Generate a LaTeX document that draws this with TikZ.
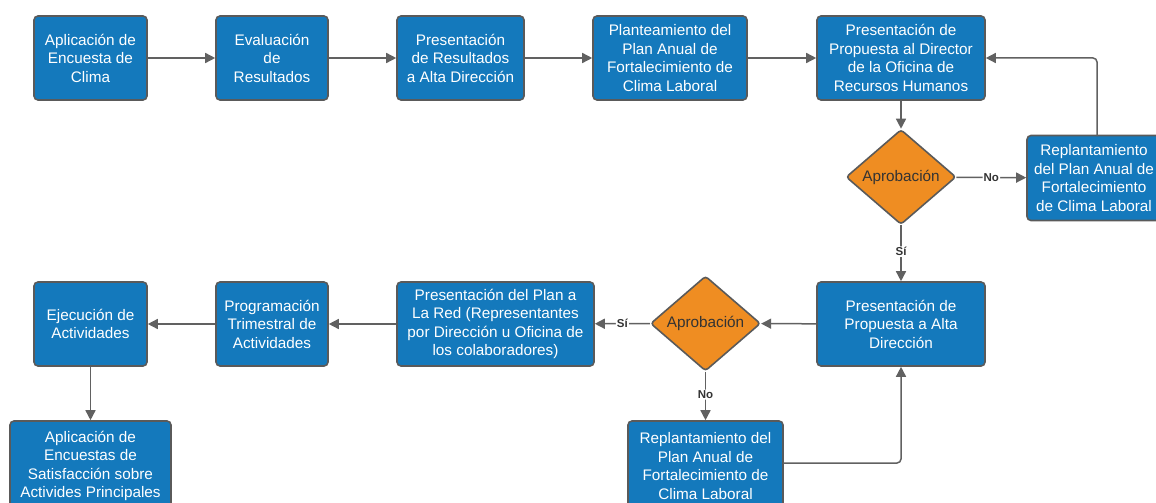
\documentclass[tikz,border=0pt]{standalone}
\usepackage{fontspec}
\setmainfont{Liberation Sans}
\usetikzlibrary{shapes.geometric,arrows.meta}
\definecolor{boxblue}{HTML}{1479BC}
\definecolor{edgegray}{HTML}{5A5A5A}
\definecolor{decor}{HTML}{EF8D22}
\definecolor{linegray}{HTML}{616161}
\definecolor{labelgray}{HTML}{333333}
\begin{document}
\begin{tikzpicture}[x=1pt,y=-1pt,
  stepbox/.style={draw=edgegray,line width=1.6pt,fill=boxblue,rounded corners=4pt,
    text=white,align=center,font=\fontsize{15.3}{18.5}\selectfont,inner sep=0pt},
  decision/.style={diamond,draw=edgegray,line width=1.6pt,fill=decor,rounded corners=3pt,
    text=labelgray,font=\fontsize{15.3}{18.5}\selectfont,inner sep=0pt,
    minimum width=110pt,minimum height=95pt},
  conn/.style={draw=linegray,line width=1.5pt,-{Triangle[length=10pt,width=10pt]},rounded corners=4pt},
  lbl/.style={fill=white,text=labelgray,font=\fontsize{11.5}{13}\selectfont\bfseries,inner sep=1pt}
]
\useasboundingbox (0,0) rectangle (1156,503);
% top row
\node[stepbox,minimum width=113pt,minimum height=84pt] (a1) at (90.5,58) {Aplicación de\\Encuesta de\\Clima};
\node[stepbox,minimum width=112pt,minimum height=84pt] (a2) at (272,58) {Evaluación\\de\\Resultados};
\node[stepbox,minimum width=127pt,minimum height=84pt] (a3) at (460.5,58) {Presentación\\de Resultados\\a Alta Dirección};
\node[stepbox,minimum width=154pt,minimum height=84pt] (a4) at (670,58) {Planteamiento del\\Plan Anual de\\Fortalecimiento de\\Clima Laboral};
\node[stepbox,minimum width=168pt,minimum height=84pt] (a5) at (901,58) {Presentación de\\Propuesta al Director\\de la Oficina de\\Recursos Humanos};
\node[decision] (d1) at (901,177) {Aprobación};
\node[stepbox,minimum width=134pt,minimum height=85pt] (r1) at (1094,178) {Replantamiento\\del Plan Anual de\\Fortalecimiento\\de Clima Laboral};
% middle row
\node[stepbox,minimum width=168pt,minimum height=84pt] (b1) at (901,324) {Presentación de\\Propuesta a Alta\\Dirección};
\node[decision] (d2) at (705.5,323.5) {Aprobación};
\node[stepbox,minimum width=197pt,minimum height=84pt] (b2) at (495.5,324) {Presentación del Plan a\\La Red (Representantes\\por Dirección u Oficina de\\los colaboradores)};
\node[stepbox,minimum width=112pt,minimum height=84pt] (b3) at (272,324) {Programación\\Trimestral de\\Actividades};
\node[stepbox,minimum width=113pt,minimum height=84pt] (b4) at (90.5,324) {Ejecución de\\Actividades};
% bottom row
\node[stepbox,minimum width=161pt,minimum height=90pt] (c1) at (90.5,466) {Aplicación de\\Encuestas de\\Satisfacción sobre\\Activides Principales};
\node[stepbox,minimum width=155pt,minimum height=90pt] (r2) at (705.5,466) {Replantamiento del\\Plan Anual de\\Fortalecimiento de\\Clima Laboral};
\coordinate (r1top) at (1097,136);
\coordinate (r2right) at (783,463);
% connectors
\draw[conn] (a1) -- (a2);
\draw[conn] (a2) -- (a3);
\draw[conn] (a3) -- (a4);
\draw[conn] (a4) -- (a5);
\draw[conn] (a5) -- (d1);
\draw[conn] (d1) -- node[lbl]{No} (r1);
\draw[conn] (r1top) |- (a5.east);
\draw[conn] (d1) -- node[lbl,pos=0.47]{Sí} (b1);
\draw[conn] (b1) -- (d2);
\draw[conn] (d2) -- node[lbl,pos=0.5]{Sí} (b2);
\draw[conn] (b2) -- (b3);
\draw[conn] (b3) -- (b4);
\draw[conn] (b4) -- (c1);
\draw[conn] (d2) -- node[lbl,pos=0.47]{No} (r2);
\draw[conn] (r2right) -| (b1.south);
\end{tikzpicture}
\end{document}
